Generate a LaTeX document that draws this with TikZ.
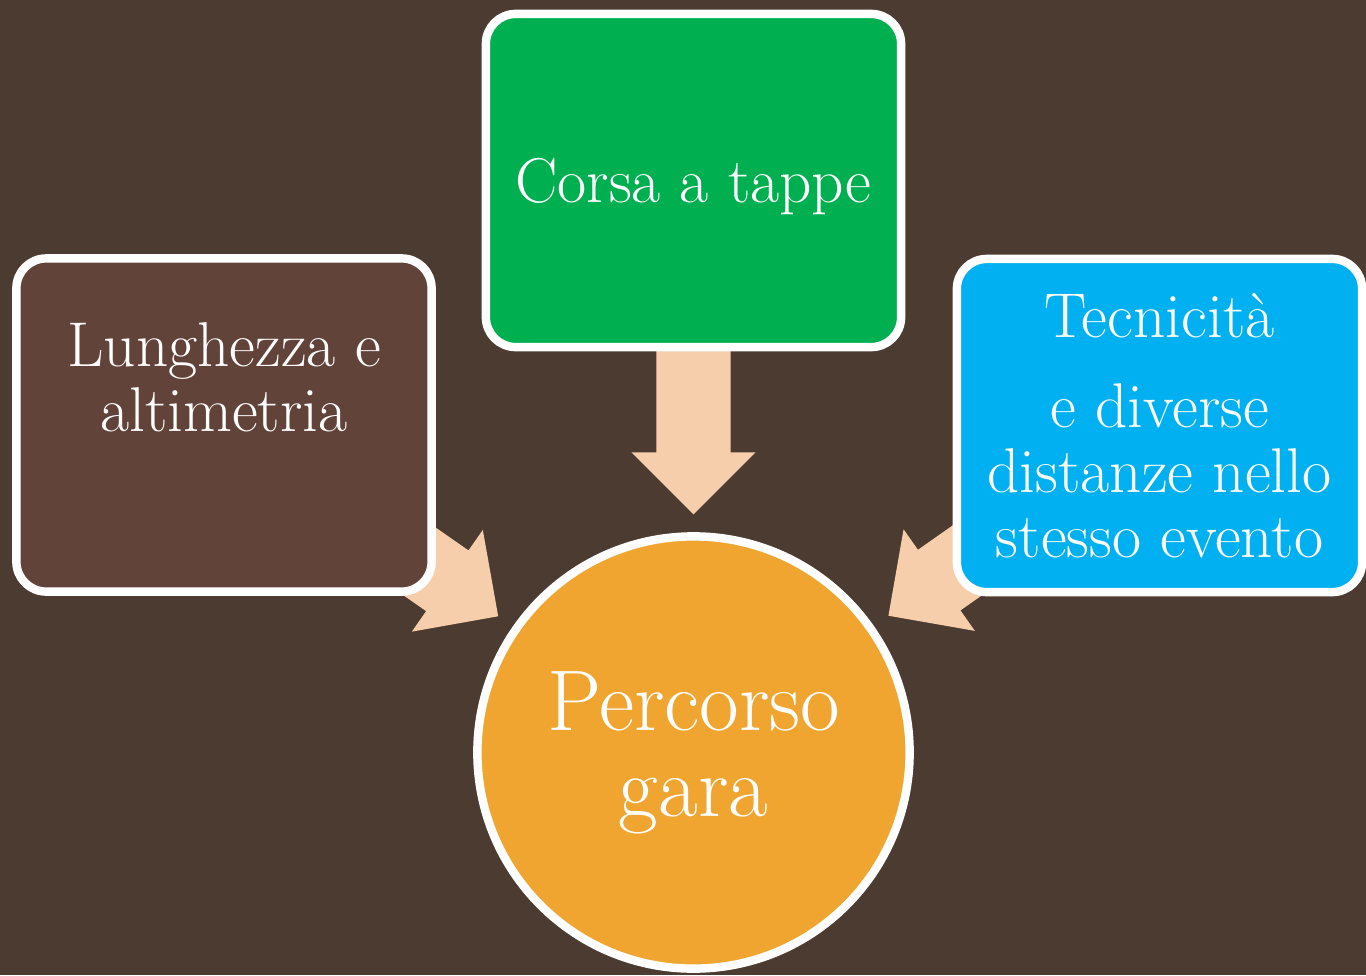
\documentclass[tikz,border=0pt]{standalone}
\usetikzlibrary{calc,backgrounds}
\definecolor{bgbrown}{RGB}{76,59,49}
\definecolor{boxbrown}{RGB}{98,67,58}
\definecolor{boxgreen}{RGB}{0,176,80}
\definecolor{boxcyan}{RGB}{0,176,240}
\definecolor{huborange}{RGB}{239,165,48}
\definecolor{arrowpeach}{RGB}{247,206,172}
\tikzset{
  box/.style={draw=white,line width=2.4pt,rounded corners=8.5pt,
    minimum width=4.15cm,minimum height=3.33cm,inner sep=0pt,
    align=center,text=white,font=\fontsize{18}{18.5}\selectfont},
  hub/.style={circle,draw=white,line width=2.4pt,fill=huborange,
    minimum size=4.32cm,inner sep=0pt,align=center,text=white,
    font=\fontsize{24.5}{24.5}\selectfont},
  arrowfill/.style={fill=arrowpeach},
}
% block arrow from the centre of #1 towards the hub #2
\newcommand{\blockarrow}[2]{%
  \coordinate (tip) at ($(#2.center)!2.38cm!(#1.center)$);
  \coordinate (hb) at ($(#2.center)!3cm!(#1.center)$);
  \fill[arrowfill] ($(#1.center)!0.37cm!90:(tip)$)
    -- ($(hb)!0.37cm!90:(tip)$) -- ($(hb)!0.62cm!90:(tip)$)
    -- (tip)
    -- ($(hb)!0.62cm!-90:(tip)$) -- ($(hb)!0.37cm!-90:(tip)$)
    -- ($(#1.center)!0.37cm!-90:(tip)$) -- cycle;}
\begin{document}
\begin{tikzpicture}[x=0.01cm,y=-0.01cm]
\useasboundingbox (0,0) rectangle (1366,975);
\node[box,fill=boxgreen,text depth=0pt] (corsa) at (693.5,180.5) {Corsa a tappe};
\node[box,fill=boxbrown] (lung) at (224,425) {Lunghezza e\\altimetria\\[9pt]\mbox{}};
\node[box,fill=boxcyan,minimum width=4.05cm] (tecn) at (1159.5,425.5)
  {Tecnicit\`a\\[7pt]e diverse\\distanze nello\\stesso evento};
\node[hub] (perc) at (693.5,752.5) {Percorso\\gara};
\begin{scope}[on background layer]
\fill[bgbrown] (0,0) rectangle (1366,975);
\blockarrow{corsa}{perc}
\blockarrow{lung}{perc}
\blockarrow{tecn}{perc}
\end{scope}
\end{tikzpicture}
\end{document}
